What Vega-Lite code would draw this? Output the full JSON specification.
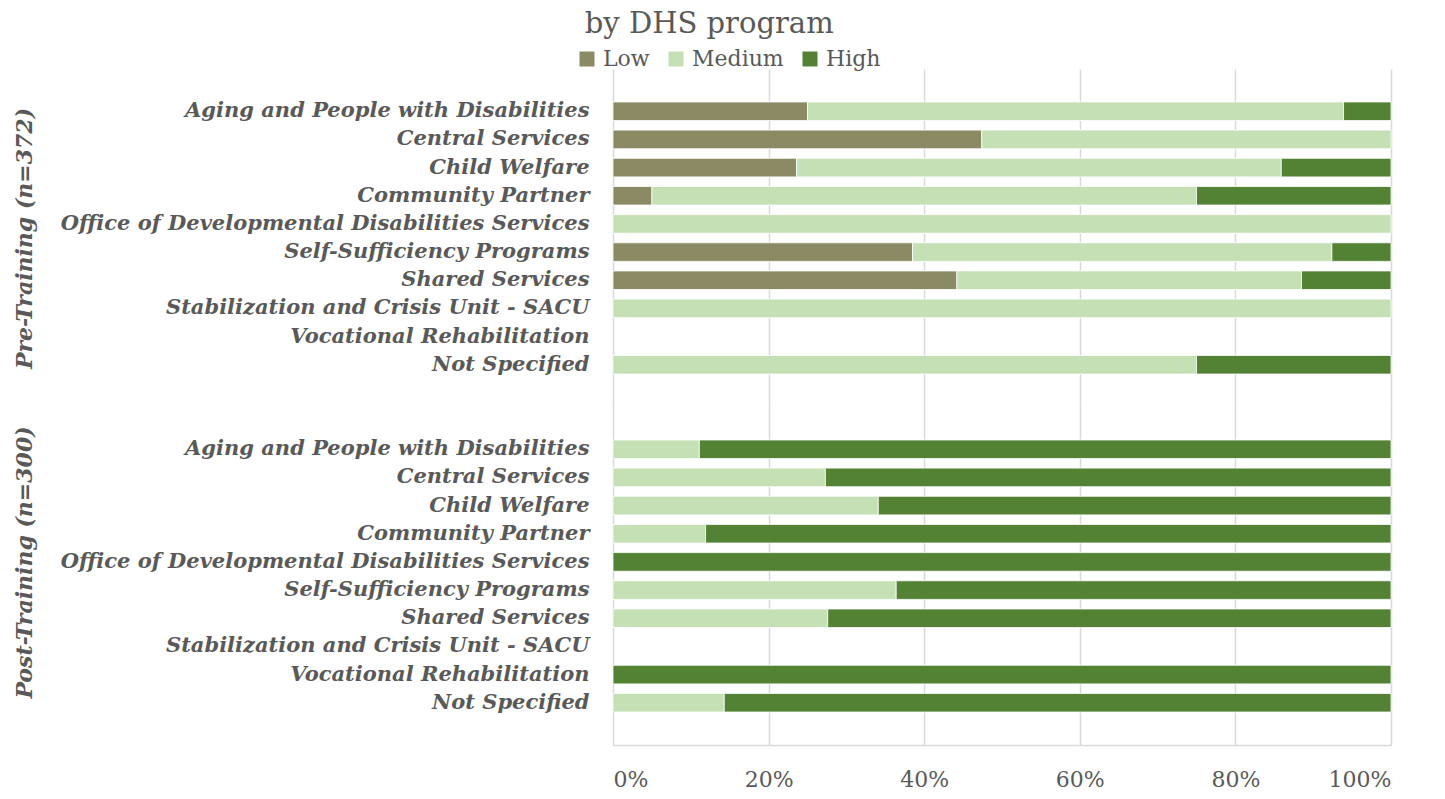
{
  "$schema": "https://vega.github.io/schema/vega-lite/v6.json",
  "background": "white",
  "padding": {"left": 13, "top": 10, "right": 5, "bottom": 5},
  "title": {"text": "by DHS program", "font": "DejaVu Serif", "fontSize": 29, "fontWeight": "normal", "color": "#595959", "anchor": "middle", "frame": "bounds", "offset": 9, "dx": 7},
  "data": {"values": [
    {"group": "Pre", "program": "Aging and People with Disabilities", "level": "Low", "value": 25.0},
    {"group": "Pre", "program": "Aging and People with Disabilities", "level": "Medium", "value": 68.9},
    {"group": "Pre", "program": "Aging and People with Disabilities", "level": "High", "value": 6.1},
    {"group": "Pre", "program": "Central Services", "level": "Low", "value": 47.4},
    {"group": "Pre", "program": "Central Services", "level": "Medium", "value": 52.6},
    {"group": "Pre", "program": "Child Welfare", "level": "Low", "value": 23.6},
    {"group": "Pre", "program": "Child Welfare", "level": "Medium", "value": 62.3},
    {"group": "Pre", "program": "Child Welfare", "level": "High", "value": 14.1},
    {"group": "Pre", "program": "Community Partner", "level": "Low", "value": 5.0},
    {"group": "Pre", "program": "Community Partner", "level": "Medium", "value": 70.0},
    {"group": "Pre", "program": "Community Partner", "level": "High", "value": 25.0},
    {"group": "Pre", "program": "Office of Developmental Disabilities Services", "level": "Medium", "value": 100},
    {"group": "Pre", "program": "Self-Sufficiency Programs", "level": "Low", "value": 38.5},
    {"group": "Pre", "program": "Self-Sufficiency Programs", "level": "Medium", "value": 53.9},
    {"group": "Pre", "program": "Self-Sufficiency Programs", "level": "High", "value": 7.6},
    {"group": "Pre", "program": "Shared Services", "level": "Low", "value": 44.2},
    {"group": "Pre", "program": "Shared Services", "level": "Medium", "value": 44.3},
    {"group": "Pre", "program": "Shared Services", "level": "High", "value": 11.5},
    {"group": "Pre", "program": "Stabilization and Crisis Unit - SACU", "level": "Medium", "value": 100},
    {"group": "Pre", "program": "Not Specified", "level": "Medium", "value": 75.0},
    {"group": "Pre", "program": "Not Specified", "level": "High", "value": 25.0},
    {"group": "Post", "program": "Aging and People with Disabilities", "level": "Medium", "value": 11.1},
    {"group": "Post", "program": "Aging and People with Disabilities", "level": "High", "value": 88.9},
    {"group": "Post", "program": "Central Services", "level": "Medium", "value": 27.3},
    {"group": "Post", "program": "Central Services", "level": "High", "value": 72.7},
    {"group": "Post", "program": "Child Welfare", "level": "Medium", "value": 34.1},
    {"group": "Post", "program": "Child Welfare", "level": "High", "value": 65.9},
    {"group": "Post", "program": "Community Partner", "level": "Medium", "value": 11.9},
    {"group": "Post", "program": "Community Partner", "level": "High", "value": 88.1},
    {"group": "Post", "program": "Office of Developmental Disabilities Services", "level": "High", "value": 100},
    {"group": "Post", "program": "Self-Sufficiency Programs", "level": "Medium", "value": 36.4},
    {"group": "Post", "program": "Self-Sufficiency Programs", "level": "High", "value": 63.6},
    {"group": "Post", "program": "Shared Services", "level": "Medium", "value": 27.6},
    {"group": "Post", "program": "Shared Services", "level": "High", "value": 72.4},
    {"group": "Post", "program": "Vocational Rehabilitation", "level": "High", "value": 100},
    {"group": "Post", "program": "Not Specified", "level": "Medium", "value": 14.3},
    {"group": "Post", "program": "Not Specified", "level": "High", "value": 85.7}
  ]},
  "transform": [{"calculate": "indexof(['Low', 'Medium', 'High'], datum.level)", "as": "stackOrder"}],
  "config": {
    "view": {"stroke": null},
    "axis": {"labelFont": "DejaVu Serif", "titleFont": "DejaVu Serif", "labelColor": "#595959", "titleColor": "#595959", "domainColor": "#d9d9d9", "gridColor": "#d9d9d9", "gridWidth": 1.5, "domainWidth": 1.5, "ticks": false, "labelLimit": 700},
    "legend": {"orient": "none", "legendX": -37, "legendY": -21, "direction": "horizontal", "title": null, "labelFont": "DejaVu Serif", "labelFontSize": 22, "labelColor": "#595959", "symbolType": "square", "symbolSize": 225, "symbolStrokeWidth": 0, "columnPadding": 15, "labelOffset": 5}
  },
  "spacing": 0,
  "vconcat": [
    {
      "width": 778,
      "height": 338,
      "transform": [{"filter": "datum.group == 'Pre'"}],
      "mark": {"type": "bar", "stroke": "white", "strokeWidth": 0.8, "height": {"band": 0.66}},
      "encoding": {
        "y": {"field": "program", "type": "nominal",
          "scale": {"domain": ["Aging and People with Disabilities", "Central Services", "Child Welfare", "Community Partner", "Office of Developmental Disabilities Services", "Self-Sufficiency Programs", "Shared Services", "Stabilization and Crisis Unit - SACU", "Vocational Rehabilitation", "Not Specified"], "paddingInner": 0, "paddingOuter": 1},
          "axis": {"title": "Pre-Training (n=372)", "labelFontSize": 21, "labelFontStyle": "italic", "labelFontWeight": "bold", "labelPadding": 24, "domain": false, "titleFontSize": 22, "titleFontStyle": "italic", "titleFontWeight": "bold", "titleX": -577}},
        "x": {"field": "value", "type": "quantitative", "stack": "normalize",
          "scale": {"domain": [0, 1]},
          "axis": {"title": null, "labels": false, "domain": false, "grid": true, "values": [0, 0.2, 0.4, 0.6, 0.8, 1]}},
        "color": {"field": "level", "type": "nominal", "sort": ["Low", "Medium", "High"],
          "scale": {"domain": ["Low", "Medium", "High"], "range": ["#8b8a65", "#c5e0b4", "#548235"]}},
        "order": {"field": "stackOrder", "type": "quantitative"}
      }
    },
    {
      "width": 778,
      "height": 338,
      "transform": [{"filter": "datum.group == 'Post'"}],
      "mark": {"type": "bar", "stroke": "white", "strokeWidth": 0.8, "height": {"band": 0.66}},
      "encoding": {
        "y": {"field": "program", "type": "nominal",
          "scale": {"domain": ["Aging and People with Disabilities", "Central Services", "Child Welfare", "Community Partner", "Office of Developmental Disabilities Services", "Self-Sufficiency Programs", "Shared Services", "Stabilization and Crisis Unit - SACU", "Vocational Rehabilitation", "Not Specified"], "paddingInner": 0, "paddingOuter": 1},
          "axis": {"title": "Post-Training (n=300)", "labelFontSize": 21, "labelFontStyle": "italic", "labelFontWeight": "bold", "labelPadding": 24, "domain": false, "titleFontSize": 22, "titleFontStyle": "italic", "titleFontWeight": "bold", "titleX": -577, "titleY": 155}},
        "x": {"field": "value", "type": "quantitative", "stack": "normalize",
          "scale": {"domain": [0, 1]},
          "axis": {"title": null, "format": "%", "labelFontSize": 22, "labelPadding": 24, "grid": true, "values": [0, 0.2, 0.4, 0.6, 0.8, 1]}},
        "color": {"field": "level", "type": "nominal", "sort": ["Low", "Medium", "High"],
          "scale": {"domain": ["Low", "Medium", "High"], "range": ["#8b8a65", "#c5e0b4", "#548235"]}},
        "order": {"field": "stackOrder", "type": "quantitative"}
      }
    }
  ]
}
